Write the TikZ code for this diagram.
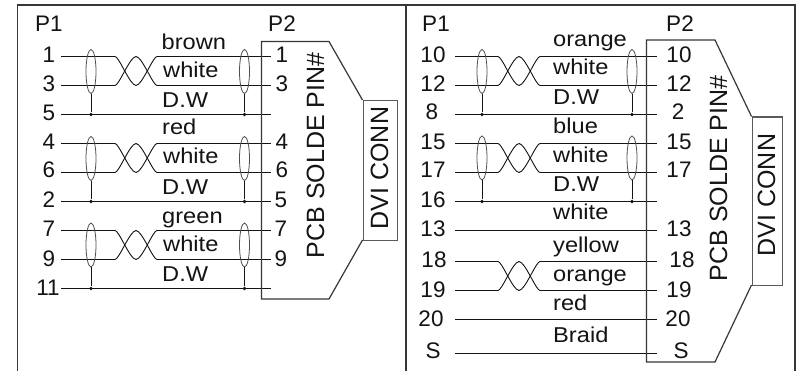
\documentclass[tikz,border=0pt]{standalone}
\usepackage{fontspec}
\setmainfont{Liberation Sans}
\usetikzlibrary{shapes.geometric}
\definecolor{ink}{HTML}{141414}
\tikzset{
  wire/.style={draw=ink,line width=1.5pt},
  frameline/.style={draw=ink!85,line width=1.5pt},
  boxline/.style={draw=ink!85,line width=1.2pt,line join=miter},
  shield/.style={draw=ink!75,line width=0.8pt,ellipse,minimum width=10pt,minimum height=44pt,inner sep=0pt},
  joint/.style={circle,fill=ink,inner sep=0pt,minimum size=3.8pt},
  pin/.style={anchor=base,inner sep=0pt,text=ink,font=\fontsize{22.5}{24}\selectfont},
  pcap/.style={anchor=base,inner sep=0pt,text=ink,font=\fontsize{22.5}{24}\selectfont},
  wlabel/.style={anchor=base west,inner sep=0pt,text=ink},
  sidetext/.style={anchor=base,inner sep=0pt,rotate=90,text=ink,font=\fontsize{25}{26}\selectfont}
}
% wire name, x start, x end, y
\newcommand\wireline[4]{%
  \coordinate (#1s) at (#2,#4);\coordinate (#1e) at (#3,#4);
  \draw[wire] (#1s) -- (#1e);}
% twist between two wires
\newcommand\twist[4]{%
  \fill[white] (#1,#3-1.5) rectangle (#2,#4+1.5);
  \pgfmathsetmacro\xa{#1+4}\pgfmathsetmacro\xd{#1+15}\pgfmathsetmacro\xb{#1+21}\pgfmathsetmacro\xc{#1+27}\pgfmathsetmacro\xe{#1+38}
  \draw[wire,line width=0.9pt] (#1,#3) .. controls (\xa,#3) and (\xd,#4) .. (\xb,#4) .. controls (\xc,#4) and (\xe,#3) .. (#2,#3);
  \draw[wire,line width=0.9pt] (#1,#4) .. controls (\xa,#4) and (\xd,#3) .. (\xb,#3) .. controls (\xc,#3) and (\xe,#4) .. (#2,#4);}
% name, x, y centre, y of drain wire
\newcommand\shieldnode[4]{%
  \node[shield] (#1) at (#2,#3) {};
  \node[joint] (#1j) at (#2,#4) {};
  \draw[wire,line width=0.9pt] (#1.south) -- (#1j);}
\newcommand\wl[3]{\node[wlabel] (lab#1#2) at (#1,#2) {\fontsize{21.5}{24}\selectfont\scalebox{1.1}[1]{#3}};}
\begin{document}
\begin{tikzpicture}[x=1pt,y=-1pt]
\useasboundingbox (0,0) rectangle (800,371);
\fill[white] (0,0) rectangle (800,371);
% frame
\coordinate (fa) at (17.5,371);\coordinate (fb) at (17.5,5);\coordinate (fc) at (795,5);\coordinate (fd) at (795,371);
\coordinate (ga) at (406,5);\coordinate (gb) at (406,371);
\draw[frameline] (fa) -- (fb) -- (fc) -- (fd);
\draw[frameline] (ga) -- (gb);
% left wires
\foreach \n/\y in {a/56.5,b/85.5,c/114.5,d/143.5,e/172.5,f/201.5,g/230.5,h/259.5,i/288.5}{\wireline{L\n}{61}{271}{\y}}
\twist{115}{157}{56.5}{85.5}\twist{115}{157}{143.5}{172.5}\twist{115}{157}{230.5}{259.5}
\shieldnode{s1}{91}{71.5}{114.5}\shieldnode{s2}{244.5}{71.5}{114.5}
\shieldnode{s3}{91}{158.5}{201.5}\shieldnode{s4}{244.5}{158.5}{201.5}
\shieldnode{s5}{91}{245}{288.5}\shieldnode{s6}{244.5}{245}{288.5}
% left connector
\coordinate (A1) at (261.5,41.5);\coordinate (A2) at (329,41.5);\coordinate (A3) at (362.5,100);
\coordinate (A4) at (362.5,240);\coordinate (A5) at (329,299);\coordinate (A6) at (261.5,299);
\draw[boxline] (A3) -- (A2) -- (A1) -- (A6) -- (A5) -- (A4);
\node[draw=ink!70,line width=1.4pt,minimum width=34.5pt,minimum height=140pt,inner sep=0pt,anchor=north west] (dviL) at (362.5,100) {};
\node[sidetext] (pcbL) at (324,155.5) {PCB SOLDE PIN\#};
\node[sidetext] (dviLt) at (388,168) {DVI CONN};
\node[pcap] (p1L) at (49,32) {P1};\node[pcap] (p2L) at (282,32) {P2};
\foreach \t/\x/\y in {1/49/63,3/49/92,5/49/121,4/49/150,6/49/178,2/49/208,7/49/237,9/49/266,11/48/295}{\node[pin] (pl\t) at (\x,\y) {\t};}
\foreach \t/\x/\y in {1/282/63,3/282/92,4/282/150,6/282/178,5/281/208,7/281/237,9/281/266}{\node[pin] (ql\t) at (\x,\y) {\t};}
\wl{161.5}{50}{brown}\wl{163}{78}{white}\wl{162}{108}{D.W}\wl{162}{135}{red}\wl{163}{164}{white}\wl{162}{195}{D.W}\wl{162}{224}{green}\wl{163}{252}{white}\wl{162}{282}{D.W}
% right wires
\foreach \n/\y in {a/56.5,b/85.5,c/114.5,d/143.5,e/172.5,f/201.5,g/230.5,h/261.5,i/290.5,j/319.5,k/353.5}{\wireline{R\n}{455}{657}{\y}}
\twist{498}{540}{56.5}{85.5}\twist{498}{540}{143.5}{172.5}\twist{498}{540}{261.5}{290.5}
\shieldnode{t1}{482}{71.5}{114.5}\shieldnode{t2}{632}{71.5}{114.5}
\shieldnode{t3}{482}{158}{201.5}\shieldnode{t4}{632}{158}{201.5}
% right connector
\coordinate (B1) at (646.5,40);\coordinate (B2) at (715,40);\coordinate (B3) at (751.5,116.5);
\coordinate (B4) at (751.5,285);\coordinate (B5) at (715,362);\coordinate (B6) at (646.5,362);
\draw[boxline] (B3) -- (B2) -- (B1) -- (B6) -- (B5) -- (B4);
\node[draw=ink!70,line width=1.4pt,minimum width=30.5pt,minimum height=168.5pt,inner sep=0pt,anchor=north west] (dviR) at (751.5,116.5) {};
\node[sidetext] (pcbR) at (727,178.5) {PCB SOLDE PIN\#};
\node[sidetext] (dviRt) at (775,195) {DVI CONN};
\node[pcap] (p1R) at (436,32) {P1};\node[pcap] (p2R) at (680,32) {P2};
\foreach \t/\x/\y in {10/433/63,12/433/92,8/432/120,15/433/150,17/433/178,16/433/208,13/433/237,18/434/268,19/433/297,20/431/326,S/433/358}{\node[pin] (pr\t) at (\x,\y) {\t};}
\foreach \t/\x/\y in {10/679/63,12/679/92,2/678/120,15/679/150,17/679/178,13/679/237,18/682/268,19/679/297,20/678/326,S/681/358}{\node[pin] (qr\t) at (\x,\y) {\t};}
\wl{553}{47}{orange}\wl{553}{75}{white}\wl{553}{105}{D.W}\wl{553}{134}{blue}\wl{553}{163}{white}\wl{553}{192}{D.W}\wl{553}{220}{white}\wl{553}{253}{yellow}\wl{553}{282}{orange}\wl{553}{310}{red}\wl{553}{342}{Braid}
\end{tikzpicture}
\end{document}
